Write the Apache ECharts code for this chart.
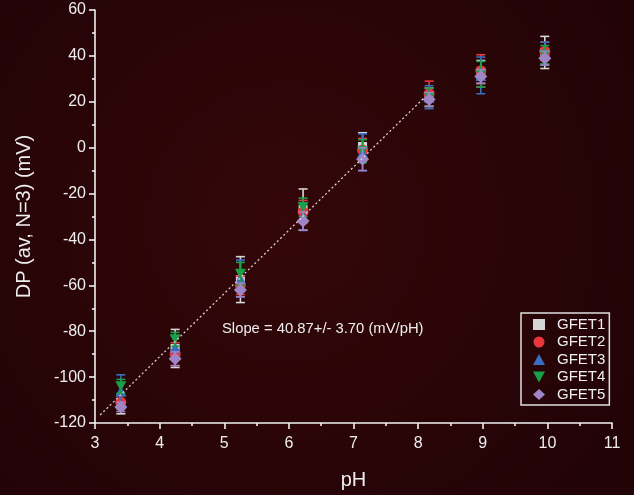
<!DOCTYPE html>
<html><head><meta charset="utf-8">
<script src="https://cdn.jsdelivr.net/npm/echarts@6/dist/echarts.min.js"></script>
<style>html,body{margin:0;padding:0;background:#260407}#c{width:634px;height:495px}</style>
</head><body><div id="c"></div>
<script>
const pH = [3.4, 4.24, 5.25, 6.22, 7.14, 8.17, 8.97, 9.96];
const names = ['GFET1','GFET2','GFET3','GFET4','GFET5'];
const gfet1 = [-112, -87.5, -57.5, -27, 0.5, 22, 33, 41.5];
const gfet2 = [-111, -90, -60, -28, -1, 23.5, 33.5, 42];
const gfet3 = [-106, -87, -57, -30, -2, 22, 31.5, 41];
const gfet4 = [-104, -83.5, -55, -26, -1.5, 22, 32, 40.5];
const gfet5 = [-113, -92, -62, -32, -5, 21, 31, 39];
const err1 = [4, 8.3, 10, 9, 6, 4, 5, 7];
const err2 = [3, 5, 4, 5, 5, 5.5, 7, 4];
const err3 = [7, 5, 8, 6, 8, 5, 8, 5];
const err4 = [3, 3, 5, 4, 5, 4, 5.6, 4];
const err5 = [2, 3, 3, 4, 5, 3, 3, 3];
const fitLine = [[3.08, -116.5], [8.11, 22.2]];
const xTicks = [3,4,5,6,7,8,9,10,11];
const yTicks = [-120,-100,-80,-60,-40,-20,0,20,40,60];
const slopeText = 'Slope = 40.87+/- 3.70 (mV/pH)';

const values = [gfet1, gfet2, gfet3, gfet4, gfet5];
const errs = [err1, err2, err3, err4, err5];
const colors = ['#d6d6d6', '#e8383d', '#3a6cc0', '#1a9e48', '#9e86c6'];
const symbols = ['rect', 'circle', 'triangle', 'path://M0,0 L10,0 L5,9 Z', 'diamond'];
const sizes = [9, 11, 11, 11, 13];
const FONT = 'Liberation Sans, Arial, sans-serif';

const series = [];
for (let i = 0; i < 5; i++) {
  series.push({
    type: 'custom', name: names[i] + ' err', z: 2 + i * 2,
    data: pH.map((x, k) => [x, values[i][k], errs[i][k]]),
    renderItem: function (params, api) {
      const x = api.value(0), y = api.value(1), e = api.value(2);
      const top = api.coord([x, y + e]), bot = api.coord([x, y - e]);
      const w = 4.5;
      const st = { stroke: colors[i], lineWidth: 1.6 };
      return { type: 'group', children: [
        { type: 'line', shape: { x1: top[0], y1: top[1], x2: bot[0], y2: bot[1] }, style: st },
        { type: 'line', shape: { x1: top[0] - w, y1: top[1], x2: top[0] + w, y2: top[1] }, style: st },
        { type: 'line', shape: { x1: bot[0] - w, y1: bot[1], x2: bot[0] + w, y2: bot[1] }, style: st }
      ]};
    },
    silent: true
  });
  series.push({
    type: 'scatter', name: names[i], z: 3 + i * 2,
    symbol: symbols[i], symbolSize: i === 3 ? [11, 10] : sizes[i],
    itemStyle: { color: colors[i], opacity: 1 },
    data: pH.map((x, k) => [x, values[i][k]])
  });
}
series.push({
  type: 'line', name: 'fit', data: fitLine, symbol: 'none', z: 20,
  lineStyle: { color: '#d8d0d0', width: 1.3, type: [2, 2.5] }, silent: true
});

const chart = echarts.init(document.getElementById('c'), null, { renderer: 'canvas' });
chart.setOption({
  backgroundColor: {
    type: 'radial', x: 0.45, y: 0.45, r: 0.8,
    colorStops: [{ offset: 0, color: '#340709' }, { offset: 1, color: '#220306' }]
  },
  animation: false,
  textStyle: { fontFamily: FONT },
  grid: { left: 95, right: 22, top: 10, bottom: 69 },
  xAxis: {
    type: 'value', min: 3, max: 11, interval: 1,
    name: 'pH', nameLocation: 'middle', nameGap: 47,
    nameTextStyle: { color: '#eeeeee', fontSize: 20 },
    axisLine: { show: true, onZero: false, lineStyle: { color: '#f2f2f2', width: 1.6 } },
    axisTick: { show: true, length: 6, inside: false, lineStyle: { color: '#f2f2f2', width: 1.6 } },
    minorTick: { show: true, splitNumber: 2, length: 3, lineStyle: { color: '#f2f2f2', width: 1.6 } },
    axisLabel: { color: '#eeeeee', fontSize: 16, margin: 13,
      formatter: v => xTicks.includes(v) ? String(v) : '' },
    splitLine: { show: false }
  },
  yAxis: {
    type: 'value', min: -120, max: 60, interval: 20,
    name: 'DP (av, N=3) (mV)', nameLocation: 'middle', nameGap: 61, nameRotate: 90,
    nameTextStyle: { color: '#eeeeee', fontSize: 20 },
    axisLine: { show: true, onZero: false, lineStyle: { color: '#f2f2f2', width: 1.6 } },
    axisTick: { show: true, length: 6, lineStyle: { color: '#f2f2f2', width: 1.6 } },
    minorTick: { show: true, splitNumber: 2, length: 3, lineStyle: { color: '#f2f2f2', width: 1.6 } },
    axisLabel: { color: '#eeeeee', fontSize: 16, margin: 9,
      formatter: v => yTicks.includes(v) ? String(v) : '' },
    splitLine: { show: false }
  },
  legend: {
    data: names, orient: 'vertical', left: 521, top: 313,
    padding: [4, 4, 3, 12], itemGap: 2.5, itemWidth: 12, itemHeight: 11,
    borderColor: '#e0e0e0', borderWidth: 1.5,
    textStyle: { color: '#eeeeee', fontSize: 15, padding: [0, 0, 0, 7] },
    selectedMode: false
  },
  graphic: [{
    type: 'text', left: 222, top: 321,
    style: { text: slopeText, fill: '#eeeeee', fontSize: 14.8, fontFamily: FONT }
  }],
  series: series
});
</script></body></html>
